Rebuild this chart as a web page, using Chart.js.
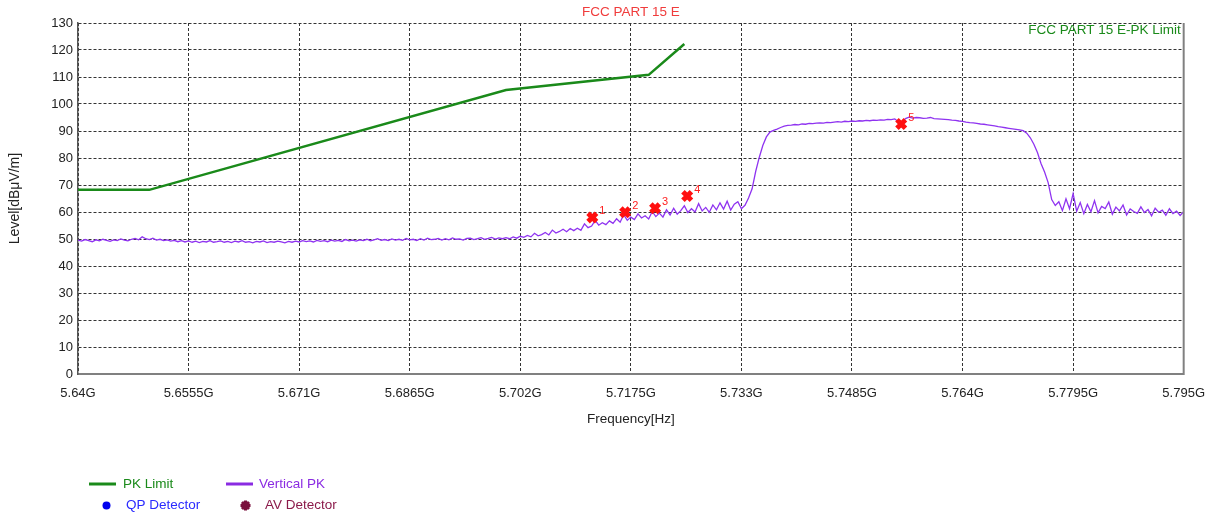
<!DOCTYPE html>
<html>
<head>
<meta charset="utf-8">
<script src="https://cdn.jsdelivr.net/npm/chart.js@4.4.0/dist/chart.umd.min.js"></script>
<style>
html, body { margin: 0; padding: 0; background: #fff; }
#wrap { width: 1217px; height: 518px; }
</style>
</head>
<body>
<div id="wrap"><canvas id="chart1" width="1217" height="518"></canvas></div>
<script>
// sweep start and step, MHz
var sweepStart = 5640;
var sweepStep = 0.5;

// Vertical PK trace, dBuV/m, one value per sweep step
var verticalPK = [
  49.6, 49.2, 49.8, 49.4, 49.0, 49.7, 49.3, 49.9, 49.5, 49.1,
  49.7, 49.4, 50.0, 49.6, 49.3, 49.9, 50.2, 49.7, 50.8, 50.1,
  49.8, 50.3, 49.6, 49.9, 49.4, 49.7, 49.2, 49.5, 49.0, 49.4,
  48.9, 49.3, 48.8, 49.2, 48.7, 49.1, 48.9, 49.4, 48.8, 49.0,
  49.3, 48.8, 49.1, 48.7, 49.2, 48.9, 49.4, 48.8, 49.0, 48.6,
  49.1, 48.9, 49.3, 48.7, 49.0, 48.8, 49.2, 48.9, 48.6, 49.1,
  48.8, 49.2, 48.9, 49.4, 49.0, 49.3, 48.9, 49.5, 49.1, 49.4,
  49.0, 49.6, 49.2, 49.5, 49.1, 49.8, 49.3, 49.6, 49.2, 49.7,
  49.4, 49.9, 49.3, 49.7, 50.1, 49.5, 49.8, 49.4, 50.0, 49.6,
  49.9, 49.5, 50.2, 49.7, 49.9, 49.4, 50.1, 49.6, 50.3, 49.8,
  49.9, 50.2, 49.6, 50.1, 49.7, 50.4, 49.9, 50.0, 49.6, 50.2,
  50.3, 49.8, 50.1, 50.5, 49.9, 50.2, 50.6, 50.0, 50.4, 50.1,
  50.5, 50.1, 50.8, 50.3, 51.0, 50.6, 51.3, 50.8, 52.1, 51.2,
  51.6, 52.4, 51.5, 53.3, 52.2, 52.8, 53.6, 52.7, 53.9, 53.1,
  54.0, 53.2, 55.6, 54.2, 54.8, 56.9, 55.1, 56.0, 55.3, 56.7,
  55.8, 57.5, 56.2, 59.0, 56.9, 58.1, 57.2, 59.3, 57.8, 58.6,
  57.4, 60.2, 58.3, 59.6, 58.1, 60.8, 58.9, 61.4, 59.2, 60.5,
  62.3, 59.8, 61.2, 60.0, 63.1, 60.4, 61.7, 59.9, 62.6, 60.8,
  63.4, 61.1, 64.0, 60.7, 62.9, 63.8, 61.2, 62.5, 65.2, 68.6,
  75.0, 80.2, 84.6, 87.8, 89.6, 90.2, 90.7, 91.3, 91.8, 92.1,
  92.2, 92.4, 92.3, 92.6, 92.5, 92.8, 92.7, 92.9, 93.0, 92.9,
  93.2, 93.1, 93.3, 93.5, 93.3, 93.6, 93.5, 93.7, 93.6, 93.8,
  93.7, 93.9, 93.8, 94.0, 93.9, 94.1, 94.0, 94.3, 94.2, 94.5,
  93.4, 93.2, 94.6, 95.1, 94.8, 95.0, 94.9, 94.7, 94.8, 95.0,
  94.6, 94.5, 94.4, 94.3, 94.2, 94.0, 93.9, 93.7, 93.6, 93.3,
  93.1, 93.0, 92.8, 92.6, 92.5, 92.3, 92.1, 91.9, 91.6, 91.4,
  91.2, 91.0, 90.8, 90.6, 90.4, 90.1, 89.2, 87.5, 85.1, 82.0,
  78.0, 74.8, 70.9, 64.6, 62.4, 63.8, 60.5, 64.9, 61.2, 66.8,
  60.3, 63.5, 59.4, 62.8, 60.1, 64.2, 59.7, 62.1, 61.3, 63.7,
  59.2, 61.8, 60.4, 62.6, 58.9, 61.1, 60.2, 59.5, 61.9, 59.8,
  60.9, 58.6, 61.4, 59.9, 60.7, 58.8, 61.2, 59.4, 60.3, 58.7, 60.1
];

// FCC part 15 E peak limit
var limitFreq = [5640, 5650, 5700, 5720, 5725];
var limitLevel = [68.2, 68.2, 105.2, 110.8, 122.2];

// marked peaks
var markerFreq = [5712.1, 5716.7, 5720.9, 5725.4, 5755.4];
var markerLevel = [58.0, 59.9, 61.4, 65.9, 92.6];
var markerNames = ['1', '2', '3', '4', '5'];

var xTickValues = [5640, 5655.5, 5671, 5686.5, 5702, 5717.5, 5733, 5748.5, 5764, 5779.5, 5795];
var xTickLabels = ['5.64G', '5.6555G', '5.671G', '5.6865G', '5.702G', '5.7175G', '5.733G', '5.7485G', '5.764G', '5.7795G', '5.795G'];

var legendNames = ['PK Limit', 'Vertical PK', 'QP Detector', 'AV Detector'];
var legendColors = ['#1a8a1a', '#8a2be2', '#2a2aff', '#8b1a4a'];

var FONT = "'Liberation Sans', Arial, sans-serif";

var tracePts = verticalPK.map(function (v, i) { return { x: sweepStart + i * sweepStep, y: v }; });
var limitPts = limitFreq.map(function (f, i) { return { x: f, y: limitLevel[i] }; });
var markerPts = markerFreq.map(function (f, i) { return { x: f, y: markerLevel[i] }; });

var extras = {
  id: 'extras',
  afterDraw: function (chart) {
    var ctx = chart.ctx, a = chart.chartArea;
    ctx.save();
    // right frame
    ctx.strokeStyle = '#808080';
    ctx.lineWidth = 2;
    ctx.beginPath();
    ctx.moveTo(a.right, a.top);
    ctx.lineTo(a.right, a.bottom + 1);
    ctx.stroke();

    ctx.textBaseline = 'middle';
    ctx.font = '13.5px ' + FONT;
    ctx.fillStyle = '#f03c3c';
    ctx.textAlign = 'center';
    ctx.fillText('FCC PART 15 E', (a.left + a.right) / 2, 12.5);
    ctx.fillStyle = '#1a8a1a';
    ctx.textAlign = 'right';
    ctx.fillText('FCC PART 15 E-PK Limit', a.right - 3, 30.5);

    // marker numbers
    var meta = chart.getDatasetMeta(0);
    ctx.font = '11px ' + FONT;
    ctx.fillStyle = '#ff2020';
    ctx.textAlign = 'left';
    meta.data.forEach(function (p, i) {
      ctx.fillText(markerNames[i], p.x + 7, p.y - 6);
    });

    // legend
    ctx.font = '13.5px ' + FONT;
    ctx.lineWidth = 3;
    ctx.strokeStyle = legendColors[0];
    ctx.beginPath(); ctx.moveTo(89, 484); ctx.lineTo(116, 484); ctx.stroke();
    ctx.fillStyle = legendColors[0];
    ctx.fillText(legendNames[0], 123, 484);
    ctx.strokeStyle = legendColors[1];
    ctx.beginPath(); ctx.moveTo(226, 484); ctx.lineTo(253, 484); ctx.stroke();
    ctx.fillStyle = legendColors[1];
    ctx.fillText(legendNames[1], 259, 484);

    ctx.fillStyle = '#0000ee';
    ctx.beginPath(); ctx.arc(106.5, 505.5, 4, 0, Math.PI * 2); ctx.fill();
    ctx.fillStyle = legendColors[2];
    ctx.fillText(legendNames[2], 126, 505);

    ctx.fillStyle = '#7a0f3c';
    ctx.strokeStyle = '#7a0f3c';
    Chart.helpers.drawPoint(ctx, { pointStyle: 'star', radius: 5, borderWidth: 2.5, rotation: 0 }, 245.5, 505.5);
    ctx.fillStyle = legendColors[3];
    ctx.fillText(legendNames[3], 265, 505);
    ctx.restore();
  }
};

new Chart('chart1', {
  type: 'line',
  plugins: [extras],
  data: {
    datasets: [
      { label: 'Markers', data: markerPts, showLine: false, pointStyle: 'crossRot',
        pointRadius: 6, pointBorderWidth: 5, pointBorderColor: '#ff1010', pointBackgroundColor: '#ff1010' },
      { label: 'PK Limit', data: limitPts, borderColor: legendColors[0], borderWidth: 2.5, pointRadius: 0, tension: 0 },
      { label: 'Vertical PK', data: tracePts, borderColor: '#8f33f0', borderWidth: 1.3, pointRadius: 0, tension: 0 }
    ]
  },
  options: {
    responsive: false,
    animation: false,
    layout: { padding: { left: 0, top: 23, right: 31, bottom: 91 } },
    plugins: { legend: { display: false }, tooltip: { enabled: false } },
    scales: {
      x: {
        type: 'linear', min: 5640, max: 5795,
        afterFit: function (s) { s.height = 53; },
        afterBuildTicks: function (s) { s.ticks = xTickValues.map(function (v) { return { value: v }; }); },
        ticks: {
          autoSkip: false, maxRotation: 0, padding: 12, color: '#222',
          font: { family: FONT, size: 13 },
          callback: function (v, i) { return xTickLabels[i]; }
        },
        grid: { color: '#333', drawTicks: false, lineWidth: 1 },
        border: { color: '#808080', width: 2, dash: [3, 2] },
        title: { display: true, text: 'Frequency[Hz]', color: '#222', padding: 0, font: { family: FONT, size: 13.5 } }
      },
      y: {
        min: 0, max: 130,
        afterFit: function (s) { s.width = 78; },
        ticks: { stepSize: 10, padding: 5, color: '#222', font: { family: FONT, size: 13 } },
        grid: { color: '#333', drawTicks: false, lineWidth: 1 },
        border: { color: '#555', width: 1.5, dash: [3, 2] },
        title: { display: true, text: 'Level[dBμV/m]', color: '#222', padding: { top: 7, bottom: 0 }, font: { family: FONT, size: 14 } }
      }
    }
  }
});
</script>
</body>
</html>
